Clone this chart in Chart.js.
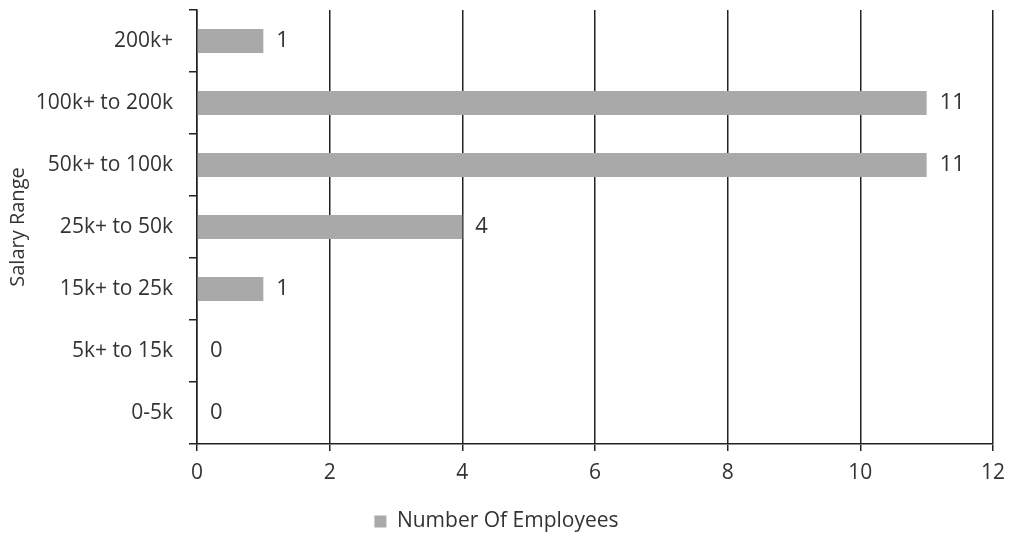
<!DOCTYPE html>
<html>
<head>
<meta charset="utf-8">
<title>Salary Range</title>
<script src="https://cdn.jsdelivr.net/npm/chart.js"></script>
<style>
  * { margin: 0; padding: 0; box-sizing: border-box; }
  body { background: #fff; width: 1009px; height: 542px; overflow: hidden; }
  #wrap { position: relative; width: 1009px; height: 542px; }
</style>
</head>
<body>
<div id="wrap"><canvas id="chart"></canvas></div>
<script>
const salaryRanges = ['200k+', '100k+ to 200k', '50k+ to 100k', '25k+ to 50k', '15k+ to 25k', '5k+ to 15k', '0-5k'];
const employees = [1, 11, 11, 4, 1, 0, 0];
const xTicks = [0, 2, 4, 6, 8, 10, 12];

const font = "'Open Sans', 'Liberation Sans', sans-serif";
const ink = '#333';
const lineCol = '#222';

// value labels to the right of each bar
const barLabels = {
  id: 'barLabels',
  afterDatasetsDraw(chart) {
    const ctx = chart.ctx;
    const meta = chart.getDatasetMeta(0);
    ctx.save();
    ctx.font = '22px ' + font;
    ctx.fillStyle = ink;
    ctx.textAlign = 'left';
    ctx.textBaseline = 'middle';
    meta.data.forEach((bar, i) => {
      ctx.fillText(String(employees[i]), bar.x + 13, bar.y);
    });
    ctx.restore();
  }
};

new Chart(document.getElementById('chart'), {
  type: 'bar',
  data: {
    labels: salaryRanges,
    datasets: [{
      label: 'Number Of Employees',
      data: employees,
      backgroundColor: '#a9a9a9',
      borderWidth: 0,
      categoryPercentage: 1,
      barPercentage: 0.39
    }]
  },
  options: {
    indexAxis: 'y',
    responsive: true,
    maintainAspectRatio: false,
    animation: false,
    layout: { padding: { left: 0, right: 16, top: 10, bottom: 0 } },
    scales: {
      x: {
        min: 0, max: 12,
        afterBuildTicks: s => { s.ticks = xTicks.map(v => ({ value: v })); },
        afterFit: s => { s.height = 58; s.paddingLeft = 0; s.paddingRight = 0; },
        grid: { color: lineCol, lineWidth: 1.5, tickLength: 7, drawOnChartArea: true },
        border: { display: true, color: lineCol, width: 1.5 },
        ticks: { color: ink, font: { family: font, size: 21 }, padding: 9 }
      },
      y: {
        afterFit: s => { s.width = 197; s.paddingTop = 0; s.paddingBottom = 0; },
        grid: { display: true, offset: true, drawOnChartArea: false, color: lineCol, lineWidth: 1.5, tickLength: 8 },
        border: { display: true, color: lineCol, width: 1.5 },
        ticks: { color: ink, font: { family: font, size: 21 }, padding: 16 },
        title: { display: true, text: 'Salary Range', color: ink, font: { family: font, size: 20 }, padding: { top: 6, bottom: 0 } }
      }
    },
    plugins: {
      legend: {
        position: 'bottom',
        labels: { color: ink, font: { family: font, size: 21 }, boxWidth: 12, boxHeight: 12, padding: 9 }
      },
      tooltip: { enabled: false }
    }
  },
  plugins: [barLabels]
});
</script>
</body>
</html>
